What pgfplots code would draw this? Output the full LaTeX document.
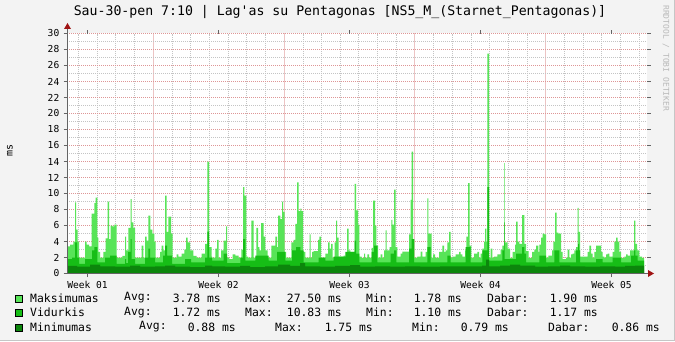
\documentclass[border=0pt]{standalone}
\usepackage{pgfplots}
\pgfplotsset{compat=1.18}
\usepackage{pgfplotstable}
\usepackage{fontspec}
\setmainfont{DejaVu Sans Mono}
\definecolor{cmax}{RGB}{88,228,88}
\definecolor{cavg}{RGB}{22,190,22}
\definecolor{cmin}{RGB}{12,134,12}
\definecolor{cback}{RGB}{243,243,243}
\definecolor{gmajor}{RGB}{222,150,150}
\definecolor{gmajorv}{RGB}{236,196,196}
\definecolor{gminor}{RGB}{196,196,196}
\definecolor{arr}{RGB}{160,20,20}
\definecolor{axl}{RGB}{100,100,100}

\pgfplotstableread{
x y
67 3.4
70 3.6
73.3 4.0
75 8.9
76 5.5
77.7 4.0
79 2.0
85 4.0
86.7 3.6
89 3.4
91.7 7.5
94.3 8.8
95.7 9.5
97.3 4.5
98.3 2.7
100 2.0
103.3 2.7
105.7 4.4
107.7 9.0
109 4.3
110.7 6.0
112.3 5.9
114.3 6.1
116.7 2.0
122.3 2.2
125 4.6
126 2.9
128.3 5.7
130.7 9.3
131.7 6.4
133.3 5.7
135 2.0
141.7 3.5
143.3 2.0
145 4.6
146.7 4.1
148.3 7.25
150.3 5.5
152.3 5.0
154.3 4.0
155.7 2.0
160 2.7
161.7 3.5
163.3 2.9
165 9.75
166.7 5.2
168.3 7.1
171 5.0
172.7 2.0
176.7 2.4
178.3 2.1
181.7 2.5
184.3 3.0
186 4.5
187.7 3.9
190 2.9
193.3 2.2
196.7 2.0
201.7 2.5
205 3.7
207.3 14.0
209 3.3
211.7 2.1
212 2.0
215.3 3.1
217 4.2
218.7 2.0
221 2.9
223.7 4.1
226 5.9
227 2.0
229.3 1.8
232.7 2.4
235.3 2.25
238.7 2.0
241.3 3.0
243 10.8
244.3 9.75
246.3 2.1
248 2.0
251.3 6.6
253.7 2.0
256.3 5.7
258 3.3
259.3 2.9
261 6.3
263.7 4.6
265.3 2.9
267.7 2.0
271.3 3.5
275.3 4.6
277 3.3
278 7.25
280.3 6.8
282 9.0
283 7.7
284.7 2.7
286 2.0
291.3 3.9
293.7 4.2
295.3 6.2
297 11.4
298.7 7.8
300.3 8.1
301.3 7.8
303 2.7
305.3 2.0
309.7 4.9
310.7 2.0
312 2.7
313.7 2.8
318 4.2
319.3 4.6
321 2.0
325.3 2.5
328 3.9
329.7 3.1
331 3.7
332.7 2.0
334.7 3.9
336 6.6
337 4.5
338.7 2.1
343.7 2.25
345.3 2.0
347 5.6
348.7 2.9
350.3 2.7
354.7 11.2
356 7.9
358 6.1
359.3 2.1
361.7 1.95
364 2.5
365 2.0
367.3 2.4
369 2.0
371.7 3.2
373 9.1
375 6.0
376.3 3.5
378 2.0
380.7 2.4
382.3 2.0
384 2.9
385.7 5.4
386.7 2.9
389.7 3.3
391.3 6.7
392.3 6.1
394 10.5
395.7 3.3
397.3 2.1
400.7 2.5
402.3 2.75
409 4.9
410.7 9.2
411.7 15.25
413 4.3
414.3 2.0
417.3 2.1
420.7 2.75
422.3 2.1
425.7 2.7
427.3 9.4
428.3 5.0
431.7 2.0
433 2.4
435 2.0
439 2.7
442.3 3.5
444 2.7
445.7 2.9
447.3 3.9
449 5.2
450.7 2.0
452.3 2.1
455.7 2.4
459 2.7
460.7 2.4
462.3 2.1
465 2.9
466.3 4.6
468 11.3
469.7 3.5
471.3 2.0
474 2.5
477.3 2.7
479 2.0
480.7 2.5
482.3 3.1
484 4.0
485 5.6
486.3 4.0
487.3 27.5
489 2.0
490.7 3.1
492.3 2.0
494 2.1
497.3 2.4
500.7 3.0
502.3 3.5
504 13.8
504.7 3.9
506 3.9
507.7 3.1
510 1.95
512.7 2.7
515 3.6
516 6.5
517.7 4.0
519.3 3.7
522 7.3
524.3 3.7
526 2.8
528.7 1.95
532 2.7
534.3 3.0
536 3.5
538.3 2.7
539.3 3.6
541 4.5
542.7 5.0
544.3 4.9
546 2.0
548.3 2.25
552 2.9
553.3 4.0
555 7.6
556.7 5.1
558.3 5.0
561 2.7
562.7 1.8
566 2.0
567.7 3.0
569.3 2.0
571 2.4
572.7 2.5
574.3 2.9
576 3.3
577.7 8.2
578.7 5.2
580 2.1
587.7 2.7
589.3 3.5
591 2.5
592.7 2.0
594.3 2.7
596 3.5
601 2.7
602.7 2.1
604.3 2.0
606 2.4
607.7 2.5
609.3 2.1
612.7 2.7
614.3 4.0
616 4.5
617.7 4.0
619.3 2.7
621 1.95
624.3 2.1
626 2.4
627.7 2.25
630 2.9
634 6.6
635.3 3.7
637 2.9
639.3 2.1
642 1.95
644 1.95
}\maxdata

\pgfplotstableread{
x y
67 1.8
72 2.0
75 3.9
77 2.0
79 1.2
85 1.8
92 2.9
94.3 3.3
97.3 1.4
105 2.0
110 2.25
116.7 1.2
125 1.8
126 1.3
128 2.7
130.7 4.3
131.7 1.8
135 1.2
145 2.0
148.3 3.1
150 2.0
155 1.4
163 2.25
165 3.5
167 2.25
172 1.2
185 1.8
191 1.4
205 2.0
207.3 5.25
209 2.0
212 1.6
223.7 2.5
227 1.3
240.3 2.0
243 4.3
245.3 1.6
255.3 2.25
268.7 1.6
277 2.7
285.3 1.6
292 2.9
296 3.3
300.3 2.9
303.7 1.4
318.7 2.0
325.3 1.6
333.7 2.1
345.3 2.7
354.7 4.1
356 2.5
359.3 1.4
371.7 2.7
374 3.5
377.3 1.4
390.7 2.5
394 2.9
396.3 1.4
409 3.1
411.7 4.3
414 1.4
427.3 3.3
430.7 1.4
447.3 2.25
450.7 1.4
465.7 3.3
470.7 1.4
482.3 2.9
487.3 10.8
489 1.6
502.3 2.9
504 6.4
504.7 1.8
516 2.5
522 3.3
524.3 2.5
526 1.4
539.3 2.25
546 1.4
554.3 2.9
559.3 1.4
576 2.9
578 3.7
579 2.9
580 1.4
596 1.8
602.7 1.4
612.7 2.0
621 1.4
631 2.25
634 2.9
635.3 2.25
637.7 1.6
644 1.6
}\avgdata

\pgfplotstableread{
x y
67 0.95
77 0.85
90 1.1
100 0.9
115 0.85
130 1.0
140 0.85
155 0.9
165 1.0
175 0.85
190 0.8
205 1.0
212 0.9
225 0.85
240 0.95
250 0.8
265 0.9
278 1.1
290 0.95
300 1.3
305 0.9
320 0.85
335 0.95
350 1.05
360 0.85
375 0.9
390 0.85
405 0.9
420 0.85
440 0.9
465 0.9
482 1.0
486 1.75
489 0.9
500 1.0
510 1.1
520 1.0
535 0.85
548 0.9
560 1.0
570 0.9
585 0.85
600 0.9
615 0.85
625 0.95
635 1.0
644 0.95
}\mindata

\begin{document}
\begin{tikzpicture}[x=1pt,y=1pt]
\fill[cback] (0,0) rectangle (675,341);
\useasboundingbox (0,0) rectangle (675,341);
\draw[gray!45, line width=1pt] (0,0.5) -- (674.5,0.5) -- (674.5,341);
\fill[white] (67,67.5) rectangle (647,307.5);
\draw[gmajorv, line width=1pt] (153.5,67.5) -- (153.5,307.5);
\draw[gmajorv, line width=1pt] (284.5,67.5) -- (284.5,307.5);
\draw[gmajorv, line width=1pt] (414.5,67.5) -- (414.5,307.5);
\draw[gmajorv, line width=1pt] (545.5,67.5) -- (545.5,307.5);
\begin{axis}[
  at={(67pt,67.5pt)}, anchor=south west, scale only axis,
  width=580pt, height=240pt,
  xmin=67, xmax=647, ymin=0, ymax=30,
  axis line style={draw=none},
  /pgf/number format/assume math mode=true,
  xtick={87.5,218.5,349.5,480.5,611.5},
  xticklabels={Week 01,Week 02,Week 03,Week 04,Week 05},
  minor xtick={78.5,97.5,115.5,134.5,172.5,190.5,209.5,228.5,246.5,265.5,303.5,321.5,340.5,358.5,377.5,396.5,433.5,452.5,471.5,489.5,508.5,527.5,564.5,583.5,601.5,620.5,639.5},
  xmajorgrids=false, xminorgrids=true,
  ymajorgrids=true, yminorgrids=true,
  ytick={0,2,...,30}, minor ytick={1,3,...,29},
  major grid style={gmajor, line width=1pt, dash pattern=on 1pt off 1pt},
  minor grid style={gminor, line width=1pt, dash pattern=on 1pt off 1pt},
  minor x grid style={dash phase=0.5pt},
  tick align=outside, major tick length=3.5pt, minor tick length=0pt,
  tick style={axl, line width=1pt},
  xticklabel style={font=\fontsize{9.6}{11}\selectfont, inner sep=0pt, yshift=-4pt},
  yticklabel style={font=\fontsize{9.6}{11}\selectfont, inner sep=0pt, xshift=-4pt},
  clip=false,
]
\addplot[const plot, fill=cmax, draw=none] table {\maxdata} \closedcycle;
\addplot[const plot, fill=cavg, draw=none] table {\avgdata} \closedcycle;
\addplot[const plot, fill=cmin, draw=none] table {\mindata} \closedcycle;
\end{axis}
\draw[axl, line width=1pt] (67.5,67.5) -- (67.5,314);
\draw[axl, line width=1pt] (67,67.5) -- (650,67.5);
\fill[arr] (64,312) -- (71,312) -- (67.5,318) -- cycle;
\fill[arr] (648,64) -- (648,71) -- (654,67.5) -- cycle;
\node[font=\fontsize{13.2}{15}\selectfont] at (340,329) {Sau-30-pen 7:10 | Lag\textquotesingle as su Pentagonas [NS5\_M\_(Starnet\_Pentagonas)]};
\node[rotate=90, font=\fontsize{10}{12}\selectfont] at (10,191) {ms};
\node[rotate=-90, anchor=west, inner sep=0pt, text=gray!55, font=\fontsize{8}{9}\selectfont] at (666,336) {RRDTOOL / TOBI OETIKER};
% legend
\begin{scope}[every node/.style={inner sep=0pt, font=\fontsize{11.4}{13}\selectfont}]
\draw[fill=cmax, draw=black, line width=0.8pt] (15.5,39) rectangle (22.5,46);
\draw[fill=cavg, draw=black, line width=0.8pt] (15.5,24.5) rectangle (22.5,31.5);
\draw[fill=cmin, draw=black, line width=0.8pt] (15.5,10) rectangle (22.5,17);
\node[anchor=west] at (30,43) {Maksimumas};
\node[anchor=west] at (124,43) {Avg:};
\node[anchor=east] at (221,43) {3.78 ms};
\node[anchor=west] at (245,43) {Max:};
\node[anchor=east] at (342,43) {27.50 ms};
\node[anchor=west] at (366,43) {Min:};
\node[anchor=east] at (462,43) {1.78 ms};
\node[anchor=west] at (487,43) {Dabar:};
\node[anchor=east] at (598,43) {1.90 ms};
\node[anchor=west] at (30,28.5) {Vidurkis};
\node[anchor=west] at (124,28.5) {Avg:};
\node[anchor=east] at (221,28.5) {1.72 ms};
\node[anchor=west] at (245,28.5) {Max:};
\node[anchor=east] at (342,28.5) {10.83 ms};
\node[anchor=west] at (366,28.5) {Min:};
\node[anchor=east] at (462,28.5) {1.10 ms};
\node[anchor=west] at (487,28.5) {Dabar:};
\node[anchor=east] at (598,28.5) {1.17 ms};
\node[anchor=west] at (30,14) {Minimumas};
\node[anchor=west] at (139,14) {Avg:};
\node[anchor=east] at (236,14) {0.88 ms};
\node[anchor=west] at (275,14) {Max:};
\node[anchor=east] at (373,14) {1.75 ms};
\node[anchor=west] at (412,14) {Min:};
\node[anchor=east] at (509,14) {0.79 ms};
\node[anchor=west] at (548,14) {Dabar:};
\node[anchor=east] at (660,14) {0.86 ms};
\end{scope}
\end{tikzpicture}
\end{document}
